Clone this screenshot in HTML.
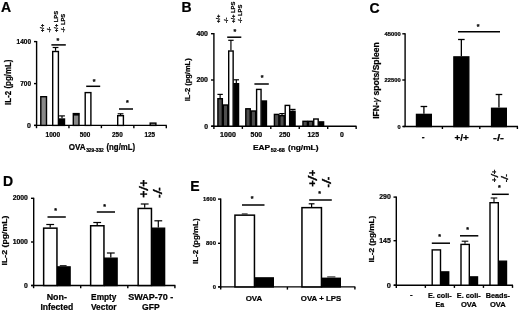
<!DOCTYPE html>
<html lang="en">
<head>
<meta charset="utf-8">
<title>Figure</title>
<style>
html,body{margin:0;padding:0;background:#fff;}
body{width:520px;height:312px;overflow:hidden;}
svg{display:block;font-family:"Liberation Sans",sans-serif;fill:#000;}
text{stroke:#000;stroke-width:0.22px;}
</style>
</head>
<body>
<svg width="520" height="312" viewBox="0 0 520 312">
<rect x="0" y="0" width="520" height="312" fill="#fff"/>
<text x="1.00" y="12.20" font-size="14" font-weight="bold">A</text>
<line x1="36.60" y1="41.00" x2="36.60" y2="126.00" stroke="#000" stroke-width="1.4" stroke-linecap="butt"/>
<line x1="34.00" y1="41.60" x2="36.60" y2="41.60" stroke="#000" stroke-width="1.4" stroke-linecap="butt"/>
<line x1="34.00" y1="83.60" x2="36.60" y2="83.60" stroke="#000" stroke-width="1.4" stroke-linecap="butt"/>
<line x1="34.00" y1="125.40" x2="36.60" y2="125.40" stroke="#000" stroke-width="1.4" stroke-linecap="butt"/>
<line x1="34.30" y1="125.40" x2="166.80" y2="125.40" stroke="#000" stroke-width="1.4" stroke-linecap="butt"/>
<line x1="36.50" y1="125.40" x2="36.50" y2="128.20" stroke="#000" stroke-width="1.4" stroke-linecap="butt"/>
<line x1="68.95" y1="125.40" x2="68.95" y2="128.20" stroke="#000" stroke-width="1.4" stroke-linecap="butt"/>
<line x1="101.40" y1="125.40" x2="101.40" y2="128.20" stroke="#000" stroke-width="1.4" stroke-linecap="butt"/>
<line x1="133.85" y1="125.40" x2="133.85" y2="128.20" stroke="#000" stroke-width="1.4" stroke-linecap="butt"/>
<line x1="166.30" y1="125.40" x2="166.30" y2="128.20" stroke="#000" stroke-width="1.4" stroke-linecap="butt"/>
<rect x="40.80" y="96.70" width="5.70" height="28.70" fill="#888" stroke="#000" stroke-width="1.4"/>
<line x1="55.55" y1="47.50" x2="55.55" y2="50.80" stroke="#000" stroke-width="1.2" stroke-linecap="butt"/>
<line x1="52.65" y1="47.50" x2="58.45" y2="47.50" stroke="#000" stroke-width="1.2" stroke-linecap="butt"/>
<rect x="52.70" y="51.50" width="5.70" height="73.90" fill="#fff" stroke="#000" stroke-width="1.4"/>
<line x1="62.00" y1="115.90" x2="62.00" y2="118.30" stroke="#000" stroke-width="1.2" stroke-linecap="butt"/>
<line x1="59.10" y1="115.90" x2="64.90" y2="115.90" stroke="#000" stroke-width="1.2" stroke-linecap="butt"/>
<rect x="59.50" y="119.00" width="5.00" height="6.40" fill="#000" stroke="#000" stroke-width="1.4"/>
<rect x="73.30" y="113.60" width="5.70" height="11.80" fill="#888" stroke="#000" stroke-width="1.4"/>
<rect x="73.2" y="113" width="6" height="2.6" fill="#000"/>
<rect x="85.20" y="92.60" width="5.70" height="32.80" fill="#fff" stroke="#000" stroke-width="1.4"/>
<line x1="120.55" y1="113.80" x2="120.55" y2="115.00" stroke="#000" stroke-width="1.2" stroke-linecap="butt"/>
<line x1="117.65" y1="113.80" x2="123.45" y2="113.80" stroke="#000" stroke-width="1.2" stroke-linecap="butt"/>
<rect x="117.70" y="115.70" width="5.70" height="9.70" fill="#fff" stroke="#000" stroke-width="1.4"/>
<rect x="150.20" y="123.10" width="5.70" height="2.30" fill="#999" stroke="#000" stroke-width="1.4"/>
<line x1="51.40" y1="44.90" x2="65.80" y2="44.90" stroke="#000" stroke-width="1.5" stroke-linecap="butt"/>
<text x="57.90" y="42.60" font-size="7" font-weight="bold" text-anchor="middle">*</text>
<line x1="86.20" y1="86.30" x2="100.20" y2="86.30" stroke="#000" stroke-width="1.5" stroke-linecap="butt"/>
<text x="94.00" y="83.90" font-size="7" font-weight="bold" text-anchor="middle">*</text>
<line x1="119.00" y1="109.00" x2="133.00" y2="109.00" stroke="#000" stroke-width="1.5" stroke-linecap="butt"/>
<text x="127.30" y="104.60" font-size="7" font-weight="bold" text-anchor="middle">*</text>
<text x="31.00" y="44.10" font-size="7.0" font-weight="bold" text-anchor="end" textLength="14.40" lengthAdjust="spacingAndGlyphs">1400</text>
<text x="31.00" y="86.10" font-size="7.0" font-weight="bold" text-anchor="end" textLength="10.80" lengthAdjust="spacingAndGlyphs">700</text>
<text x="31.00" y="127.90" font-size="7.0" font-weight="bold" text-anchor="end">0</text>
<text x="52.80" y="137.00" font-size="6.6" font-weight="bold" text-anchor="middle" textLength="14.60" lengthAdjust="spacingAndGlyphs">1000</text>
<text x="85.10" y="137.00" font-size="6.6" font-weight="bold" text-anchor="middle" textLength="10.60" lengthAdjust="spacingAndGlyphs">500</text>
<text x="117.40" y="137.00" font-size="6.6" font-weight="bold" text-anchor="middle" textLength="10.60" lengthAdjust="spacingAndGlyphs">250</text>
<text x="149.70" y="137.00" font-size="6.6" font-weight="bold" text-anchor="middle" textLength="10.60" lengthAdjust="spacingAndGlyphs">125</text>
<text x="68.80" y="150.00" font-size="8.3" font-weight="bold" textLength="16.80" lengthAdjust="spacingAndGlyphs">OVA</text>
<text x="86.20" y="152.00" font-size="4.6" font-weight="bold" textLength="17.60" lengthAdjust="spacingAndGlyphs">329-332</text>
<text x="106.50" y="150.00" font-size="8.3" font-weight="bold" textLength="28.60" lengthAdjust="spacingAndGlyphs">(ng/mL)</text>
<text transform="translate(11.00 82.20) rotate(-90)" font-size="8.2" font-weight="bold" text-anchor="middle" textLength="45.40" lengthAdjust="spacingAndGlyphs">IL-2 (pg/mL)</text>
<text transform="translate(44.00 32.20) rotate(-90)" font-size="5.8" font-weight="bold">+/+</text>
<text transform="translate(51.00 32.20) rotate(-90)" font-size="5.8" font-weight="bold">-/-</text>
<text transform="translate(58.40 32.20) rotate(-90)" font-size="5.8" font-weight="bold">+/+ LPS</text>
<text transform="translate(65.00 32.20) rotate(-90)" font-size="5.8" font-weight="bold">-/- LPS</text>
<text x="181.60" y="12.00" font-size="14" font-weight="bold">B</text>
<line x1="213.90" y1="33.10" x2="213.90" y2="126.80" stroke="#000" stroke-width="1.4" stroke-linecap="butt"/>
<line x1="211.00" y1="33.70" x2="213.90" y2="33.70" stroke="#000" stroke-width="1.4" stroke-linecap="butt"/>
<text x="208.00" y="36.00" font-size="6.8" font-weight="bold" text-anchor="end" textLength="11.60" lengthAdjust="spacingAndGlyphs">400</text>
<line x1="211.00" y1="80.00" x2="213.90" y2="80.00" stroke="#000" stroke-width="1.4" stroke-linecap="butt"/>
<text x="208.00" y="82.30" font-size="6.8" font-weight="bold" text-anchor="end" textLength="11.60" lengthAdjust="spacingAndGlyphs">200</text>
<line x1="211.00" y1="126.20" x2="213.90" y2="126.20" stroke="#000" stroke-width="1.4" stroke-linecap="butt"/>
<text x="208.00" y="128.50" font-size="6.8" font-weight="bold" text-anchor="end">0</text>
<line x1="211.50" y1="126.20" x2="356.50" y2="126.20" stroke="#000" stroke-width="1.4" stroke-linecap="butt"/>
<line x1="213.90" y1="126.20" x2="213.90" y2="128.90" stroke="#000" stroke-width="1.4" stroke-linecap="butt"/>
<line x1="242.35" y1="126.20" x2="242.35" y2="128.90" stroke="#000" stroke-width="1.4" stroke-linecap="butt"/>
<line x1="270.80" y1="126.20" x2="270.80" y2="128.90" stroke="#000" stroke-width="1.4" stroke-linecap="butt"/>
<line x1="299.25" y1="126.20" x2="299.25" y2="128.90" stroke="#000" stroke-width="1.4" stroke-linecap="butt"/>
<line x1="327.70" y1="126.20" x2="327.70" y2="128.90" stroke="#000" stroke-width="1.4" stroke-linecap="butt"/>
<line x1="356.15" y1="126.20" x2="356.15" y2="128.90" stroke="#000" stroke-width="1.4" stroke-linecap="butt"/>
<line x1="220.12" y1="94.40" x2="220.12" y2="98.00" stroke="#000" stroke-width="1.2" stroke-linecap="butt"/>
<line x1="217.43" y1="94.40" x2="222.82" y2="94.40" stroke="#000" stroke-width="1.2" stroke-linecap="butt"/>
<rect x="217.90" y="98.70" width="4.45" height="27.50" fill="#4e4e4e" stroke="#000" stroke-width="1.4"/>
<rect x="223.30" y="105.00" width="4.45" height="21.20" fill="#4e4e4e" stroke="#000" stroke-width="1.4"/>
<line x1="230.93" y1="40.30" x2="230.93" y2="50.30" stroke="#000" stroke-width="1.2" stroke-linecap="butt"/>
<line x1="228.23" y1="40.30" x2="233.62" y2="40.30" stroke="#000" stroke-width="1.2" stroke-linecap="butt"/>
<rect x="228.70" y="51.00" width="4.45" height="75.20" fill="#fff" stroke="#000" stroke-width="1.4"/>
<line x1="236.32" y1="79.80" x2="236.32" y2="83.00" stroke="#000" stroke-width="1.2" stroke-linecap="butt"/>
<line x1="233.62" y1="79.80" x2="239.02" y2="79.80" stroke="#000" stroke-width="1.2" stroke-linecap="butt"/>
<rect x="234.10" y="83.70" width="4.45" height="42.50" fill="#000" stroke="#000" stroke-width="1.4"/>
<rect x="245.80" y="108.80" width="4.45" height="17.40" fill="#4e4e4e" stroke="#000" stroke-width="1.4"/>
<rect x="251.20" y="111.00" width="4.45" height="15.20" fill="#4e4e4e" stroke="#000" stroke-width="1.4"/>
<rect x="256.60" y="89.40" width="4.45" height="36.80" fill="#fff" stroke="#000" stroke-width="1.4"/>
<rect x="262.00" y="101.00" width="4.45" height="25.20" fill="#000" stroke="#000" stroke-width="1.4"/>
<rect x="274.40" y="114.40" width="4.45" height="11.80" fill="#4e4e4e" stroke="#000" stroke-width="1.4"/>
<line x1="282.03" y1="113.60" x2="282.03" y2="115.00" stroke="#000" stroke-width="1.2" stroke-linecap="butt"/>
<line x1="279.33" y1="113.60" x2="284.73" y2="113.60" stroke="#000" stroke-width="1.2" stroke-linecap="butt"/>
<rect x="279.80" y="115.70" width="4.45" height="10.50" fill="#4e4e4e" stroke="#000" stroke-width="1.4"/>
<rect x="285.20" y="105.40" width="4.45" height="20.80" fill="#fff" stroke="#000" stroke-width="1.4"/>
<line x1="292.83" y1="109.40" x2="292.83" y2="110.60" stroke="#000" stroke-width="1.2" stroke-linecap="butt"/>
<line x1="290.13" y1="109.40" x2="295.53" y2="109.40" stroke="#000" stroke-width="1.2" stroke-linecap="butt"/>
<rect x="290.60" y="111.30" width="4.45" height="14.90" fill="#000" stroke="#000" stroke-width="1.4"/>
<rect x="302.95" y="121.30" width="4.45" height="4.90" fill="#4e4e4e" stroke="#000" stroke-width="1.4"/>
<rect x="308.35" y="121.30" width="4.45" height="4.90" fill="#4e4e4e" stroke="#000" stroke-width="1.4"/>
<rect x="313.75" y="119.00" width="4.45" height="7.20" fill="#fff" stroke="#000" stroke-width="1.4"/>
<rect x="319.15" y="121.90" width="4.45" height="4.30" fill="#000" stroke="#000" stroke-width="1.4"/>
<line x1="227.20" y1="37.20" x2="241.30" y2="37.20" stroke="#000" stroke-width="1.5" stroke-linecap="butt"/>
<text x="234.80" y="34.20" font-size="7" font-weight="bold" text-anchor="middle">*</text>
<line x1="254.40" y1="84.00" x2="268.80" y2="84.00" stroke="#000" stroke-width="1.5" stroke-linecap="butt"/>
<text x="262.10" y="79.60" font-size="7" font-weight="bold" text-anchor="middle">*</text>
<text x="228.00" y="137.30" font-size="6.9" font-weight="bold" text-anchor="middle" textLength="15.80" lengthAdjust="spacingAndGlyphs">1000</text>
<text x="256.40" y="137.30" font-size="6.9" font-weight="bold" text-anchor="middle" textLength="11.60" lengthAdjust="spacingAndGlyphs">500</text>
<text x="284.70" y="137.30" font-size="6.9" font-weight="bold" text-anchor="middle" textLength="11.40" lengthAdjust="spacingAndGlyphs">250</text>
<text x="313.30" y="137.30" font-size="6.9" font-weight="bold" text-anchor="middle" textLength="11.60" lengthAdjust="spacingAndGlyphs">125</text>
<text x="341.80" y="137.30" font-size="6.9" font-weight="bold" text-anchor="middle">0</text>
<text x="252.90" y="150.30" font-size="7.9" font-weight="bold" textLength="17.20" lengthAdjust="spacingAndGlyphs">EAP</text>
<text x="270.80" y="152.30" font-size="4.7" font-weight="bold" textLength="14.00" lengthAdjust="spacingAndGlyphs">52-68</text>
<text x="287.90" y="150.30" font-size="7.9" font-weight="bold" textLength="30.60" lengthAdjust="spacingAndGlyphs">(ng/mL)</text>
<text transform="translate(189.50 79.80) rotate(-90)" font-size="7.4" font-weight="bold" text-anchor="middle" textLength="43.00" lengthAdjust="spacingAndGlyphs">IL-2 (pg/mL)</text>
<text transform="translate(220.10 23.00) rotate(-90)" font-size="5.8" font-weight="bold">+/+</text>
<text transform="translate(227.60 23.00) rotate(-90)" font-size="5.8" font-weight="bold">-/-</text>
<text transform="translate(234.70 23.00) rotate(-90)" font-size="5.8" font-weight="bold">+/+ LPS</text>
<text transform="translate(242.30 23.00) rotate(-90)" font-size="5.8" font-weight="bold">-/- LPS</text>
<text x="369.60" y="12.50" font-size="14" font-weight="bold">C</text>
<line x1="405.10" y1="33.20" x2="405.10" y2="127.10" stroke="#000" stroke-width="1.4" stroke-linecap="butt"/>
<line x1="402.30" y1="33.80" x2="405.10" y2="33.80" stroke="#000" stroke-width="1.4" stroke-linecap="butt"/>
<text x="400.60" y="35.80" font-size="5.6" font-weight="bold" text-anchor="end" textLength="16.00" lengthAdjust="spacingAndGlyphs">45000</text>
<line x1="402.30" y1="80.00" x2="405.10" y2="80.00" stroke="#000" stroke-width="1.4" stroke-linecap="butt"/>
<text x="400.60" y="82.00" font-size="5.6" font-weight="bold" text-anchor="end" textLength="16.00" lengthAdjust="spacingAndGlyphs">22500</text>
<line x1="402.30" y1="126.50" x2="405.10" y2="126.50" stroke="#000" stroke-width="1.4" stroke-linecap="butt"/>
<text x="400.60" y="128.50" font-size="5.6" font-weight="bold" text-anchor="end">0</text>
<line x1="403.20" y1="126.50" x2="518.00" y2="126.50" stroke="#000" stroke-width="1.4" stroke-linecap="butt"/>
<line x1="442.40" y1="126.50" x2="442.40" y2="129.00" stroke="#000" stroke-width="1.4" stroke-linecap="butt"/>
<line x1="479.80" y1="126.50" x2="479.80" y2="129.00" stroke="#000" stroke-width="1.4" stroke-linecap="butt"/>
<line x1="517.40" y1="126.50" x2="517.40" y2="129.00" stroke="#000" stroke-width="1.4" stroke-linecap="butt"/>
<line x1="423.90" y1="106.50" x2="423.90" y2="113.70" stroke="#000" stroke-width="1.3" stroke-linecap="butt"/>
<line x1="420.60" y1="106.50" x2="427.20" y2="106.50" stroke="#000" stroke-width="1.3" stroke-linecap="butt"/>
<rect x="416.50" y="114.40" width="14.80" height="12.10" fill="#000" stroke="#000" stroke-width="1.4"/>
<line x1="461.35" y1="39.50" x2="461.35" y2="56.20" stroke="#000" stroke-width="1.3" stroke-linecap="butt"/>
<line x1="458.05" y1="39.50" x2="464.65" y2="39.50" stroke="#000" stroke-width="1.3" stroke-linecap="butt"/>
<rect x="453.90" y="56.90" width="14.90" height="69.60" fill="#000" stroke="#000" stroke-width="1.4"/>
<line x1="498.95" y1="94.50" x2="498.95" y2="107.60" stroke="#000" stroke-width="1.3" stroke-linecap="butt"/>
<line x1="495.65" y1="94.50" x2="502.25" y2="94.50" stroke="#000" stroke-width="1.3" stroke-linecap="butt"/>
<rect x="491.60" y="108.30" width="14.70" height="18.20" fill="#000" stroke="#000" stroke-width="1.4"/>
<line x1="458.00" y1="31.80" x2="500.00" y2="31.80" stroke="#000" stroke-width="1.4" stroke-linecap="butt"/>
<text x="478.00" y="29.40" font-size="7" font-weight="bold" text-anchor="middle">*</text>
<text x="423.20" y="140.40" font-size="8.5" font-weight="bold" text-anchor="middle">-</text>
<text x="461.60" y="141.40" font-size="8.5" font-weight="bold" text-anchor="middle" textLength="14.40" lengthAdjust="spacingAndGlyphs">+/+</text>
<text x="498.50" y="141.20" font-size="8.5" font-weight="bold" text-anchor="middle" textLength="11.00" lengthAdjust="spacingAndGlyphs">-/-</text>
<text transform="translate(379.1 80.6) rotate(-90)" font-size="8.6" font-weight="bold" text-anchor="middle" textLength="76.5" lengthAdjust="spacingAndGlyphs">IFN-<tspan font-weight="normal" font-style="italic">&#947;</tspan> spots/Spleen</text>
<text x="3.10" y="185.90" font-size="14" font-weight="bold">D</text>
<line x1="33.70" y1="197.70" x2="33.70" y2="286.10" stroke="#000" stroke-width="1.4" stroke-linecap="butt"/>
<line x1="31.00" y1="198.30" x2="33.70" y2="198.30" stroke="#000" stroke-width="1.4" stroke-linecap="butt"/>
<text x="27.90" y="200.30" font-size="6.8" font-weight="bold" text-anchor="end" textLength="15.20" lengthAdjust="spacingAndGlyphs">2000</text>
<line x1="31.00" y1="242.00" x2="33.70" y2="242.00" stroke="#000" stroke-width="1.4" stroke-linecap="butt"/>
<text x="27.90" y="244.00" font-size="6.8" font-weight="bold" text-anchor="end" textLength="15.20" lengthAdjust="spacingAndGlyphs">1000</text>
<line x1="31.00" y1="285.50" x2="33.70" y2="285.50" stroke="#000" stroke-width="1.4" stroke-linecap="butt"/>
<text x="27.90" y="287.50" font-size="6.8" font-weight="bold" text-anchor="end">0</text>
<line x1="31.30" y1="285.50" x2="175.40" y2="285.50" stroke="#000" stroke-width="1.4" stroke-linecap="butt"/>
<line x1="33.60" y1="285.50" x2="33.60" y2="288.20" stroke="#000" stroke-width="1.4" stroke-linecap="butt"/>
<line x1="80.70" y1="285.50" x2="80.70" y2="288.20" stroke="#000" stroke-width="1.4" stroke-linecap="butt"/>
<line x1="127.80" y1="285.50" x2="127.80" y2="288.20" stroke="#000" stroke-width="1.4" stroke-linecap="butt"/>
<line x1="174.90" y1="285.50" x2="174.90" y2="288.20" stroke="#000" stroke-width="1.4" stroke-linecap="butt"/>
<line x1="50.20" y1="224.50" x2="50.20" y2="227.40" stroke="#000" stroke-width="1.2" stroke-linecap="butt"/>
<line x1="46.30" y1="224.50" x2="54.10" y2="224.50" stroke="#000" stroke-width="1.2" stroke-linecap="butt"/>
<rect x="43.65" y="228.15" width="13.30" height="57.35" fill="#fff" stroke="#000" stroke-width="1.5"/>
<rect x="57.70" y="266.90" width="12.40" height="18.60" fill="#000" stroke="#000" stroke-width="1.4"/>
<line x1="59.80" y1="265.70" x2="66.60" y2="265.70" stroke="#000" stroke-width="1.0" stroke-linecap="butt"/>
<line x1="97.20" y1="222.50" x2="97.20" y2="225.00" stroke="#000" stroke-width="1.2" stroke-linecap="butt"/>
<line x1="93.30" y1="222.50" x2="101.10" y2="222.50" stroke="#000" stroke-width="1.2" stroke-linecap="butt"/>
<rect x="90.65" y="225.75" width="13.30" height="59.75" fill="#fff" stroke="#000" stroke-width="1.5"/>
<line x1="110.80" y1="253.00" x2="110.80" y2="257.50" stroke="#000" stroke-width="1.2" stroke-linecap="butt"/>
<line x1="106.90" y1="253.00" x2="114.70" y2="253.00" stroke="#000" stroke-width="1.2" stroke-linecap="butt"/>
<rect x="104.70" y="258.20" width="12.40" height="27.30" fill="#000" stroke="#000" stroke-width="1.4"/>
<line x1="144.70" y1="204.00" x2="144.70" y2="207.70" stroke="#000" stroke-width="1.2" stroke-linecap="butt"/>
<line x1="140.80" y1="204.00" x2="148.60" y2="204.00" stroke="#000" stroke-width="1.2" stroke-linecap="butt"/>
<rect x="138.15" y="208.45" width="13.30" height="77.05" fill="#fff" stroke="#000" stroke-width="1.5"/>
<line x1="158.30" y1="220.80" x2="158.30" y2="227.50" stroke="#000" stroke-width="1.2" stroke-linecap="butt"/>
<line x1="154.40" y1="220.80" x2="162.20" y2="220.80" stroke="#000" stroke-width="1.2" stroke-linecap="butt"/>
<rect x="152.20" y="228.20" width="12.40" height="57.30" fill="#000" stroke="#000" stroke-width="1.4"/>
<line x1="47.50" y1="217.00" x2="65.80" y2="217.00" stroke="#000" stroke-width="1.5" stroke-linecap="butt"/>
<text x="55.50" y="213.10" font-size="7" font-weight="bold" text-anchor="middle">*</text>
<line x1="96.80" y1="212.00" x2="115.00" y2="212.00" stroke="#000" stroke-width="1.5" stroke-linecap="butt"/>
<text x="104.50" y="208.60" font-size="7" font-weight="bold" text-anchor="middle">*</text>
<text x="56.80" y="300.40" font-size="8.6" font-weight="bold" text-anchor="middle" textLength="20.20" lengthAdjust="spacingAndGlyphs">Non-</text>
<text x="56.80" y="310.40" font-size="8.6" font-weight="bold" text-anchor="middle" textLength="32.80" lengthAdjust="spacingAndGlyphs">Infected</text>
<text x="103.80" y="300.40" font-size="8.6" font-weight="bold" text-anchor="middle" textLength="25.40" lengthAdjust="spacingAndGlyphs">Empty</text>
<text x="103.80" y="310.40" font-size="8.6" font-weight="bold" text-anchor="middle" textLength="25.60" lengthAdjust="spacingAndGlyphs">Vector</text>
<text x="150.80" y="300.40" font-size="8.6" font-weight="bold" text-anchor="middle" textLength="45.20" lengthAdjust="spacingAndGlyphs">SWAP-70 -</text>
<text x="150.80" y="310.40" font-size="8.6" font-weight="bold" text-anchor="middle" textLength="17.60" lengthAdjust="spacingAndGlyphs">GFP</text>
<text transform="translate(7.30 240.50) rotate(-90)" font-size="7.5" font-weight="bold" text-anchor="middle" textLength="49.80" lengthAdjust="spacingAndGlyphs">IL-2 (pg/mL)</text>
<text transform="translate(147.96 183.20) rotate(-90) scale(1.0 1)" font-size="12.4" font-weight="bold" text-anchor="middle">+</text>
<text transform="translate(147.62 188.40) rotate(-90) scale(1.45 1)" font-size="12" font-weight="normal" text-anchor="middle">/</text>
<text transform="translate(147.96 194.10) rotate(-90) scale(1.0 1)" font-size="12.4" font-weight="bold" text-anchor="middle">+</text>
<text transform="translate(161.98 189.10) rotate(-90) scale(1.0 1)" font-size="11" font-weight="bold" text-anchor="middle">-</text>
<text transform="translate(162.12 191.80) rotate(-90) scale(1.5 1)" font-size="12" font-weight="normal" text-anchor="middle">/</text>
<text transform="translate(161.98 196.20) rotate(-90) scale(1.0 1)" font-size="11" font-weight="bold" text-anchor="middle">-</text>
<text x="190.20" y="191.40" font-size="14" font-weight="bold">E</text>
<line x1="220.70" y1="198.50" x2="220.70" y2="287.50" stroke="#000" stroke-width="1.4" stroke-linecap="butt"/>
<line x1="218.00" y1="199.10" x2="220.70" y2="199.10" stroke="#000" stroke-width="1.4" stroke-linecap="butt"/>
<text x="215.90" y="201.10" font-size="5.8" font-weight="bold" text-anchor="end" textLength="12.80" lengthAdjust="spacingAndGlyphs">1600</text>
<line x1="218.00" y1="243.30" x2="220.70" y2="243.30" stroke="#000" stroke-width="1.4" stroke-linecap="butt"/>
<text x="215.90" y="245.30" font-size="5.8" font-weight="bold" text-anchor="end" textLength="9.80" lengthAdjust="spacingAndGlyphs">800</text>
<line x1="218.00" y1="286.90" x2="220.70" y2="286.90" stroke="#000" stroke-width="1.4" stroke-linecap="butt"/>
<text x="215.90" y="288.90" font-size="5.8" font-weight="bold" text-anchor="end">0</text>
<line x1="218.30" y1="286.90" x2="355.40" y2="286.90" stroke="#000" stroke-width="1.4" stroke-linecap="butt"/>
<line x1="220.70" y1="286.90" x2="220.70" y2="289.60" stroke="#000" stroke-width="1.4" stroke-linecap="butt"/>
<line x1="287.40" y1="286.90" x2="287.40" y2="289.60" stroke="#000" stroke-width="1.4" stroke-linecap="butt"/>
<line x1="354.90" y1="286.90" x2="354.90" y2="289.60" stroke="#000" stroke-width="1.4" stroke-linecap="butt"/>
<rect x="234.95" y="215.15" width="19.50" height="71.75" fill="#fff" stroke="#000" stroke-width="1.5"/>
<rect x="255.10" y="277.90" width="18.20" height="9.00" fill="#000" stroke="#000" stroke-width="1.4"/>
<line x1="311.60" y1="203.80" x2="311.60" y2="206.90" stroke="#000" stroke-width="1.2" stroke-linecap="butt"/>
<line x1="308.70" y1="203.80" x2="314.50" y2="203.80" stroke="#000" stroke-width="1.2" stroke-linecap="butt"/>
<rect x="301.95" y="207.65" width="19.50" height="79.25" fill="#fff" stroke="#000" stroke-width="1.5"/>
<rect x="322.10" y="278.30" width="18.20" height="8.60" fill="#000" stroke="#000" stroke-width="1.4"/>
<line x1="327.20" y1="276.90" x2="335.40" y2="276.90" stroke="#000" stroke-width="0.9" stroke-linecap="butt"/>
<line x1="241.80" y1="213.90" x2="247.60" y2="213.90" stroke="#000" stroke-width="0.9" stroke-linecap="butt"/>
<line x1="242.00" y1="205.00" x2="264.50" y2="205.00" stroke="#000" stroke-width="1.5" stroke-linecap="butt"/>
<text x="252.00" y="201.10" font-size="7" font-weight="bold" text-anchor="middle">*</text>
<line x1="309.20" y1="200.00" x2="331.80" y2="200.00" stroke="#000" stroke-width="1.5" stroke-linecap="butt"/>
<text x="319.50" y="195.60" font-size="7" font-weight="bold" text-anchor="middle">*</text>
<text x="254.00" y="300.50" font-size="8" font-weight="bold" text-anchor="middle" textLength="16.60" lengthAdjust="spacingAndGlyphs">OVA</text>
<text x="321.00" y="300.50" font-size="8" font-weight="bold" text-anchor="middle" textLength="40.40" lengthAdjust="spacingAndGlyphs">OVA + LPS</text>
<text transform="translate(198.20 241.20) rotate(-90)" font-size="7.2" font-weight="bold" text-anchor="middle" textLength="45.60" lengthAdjust="spacingAndGlyphs">IL-2 (pg/mL)</text>
<text transform="translate(316.44 172.90) rotate(-90) scale(1.0 1)" font-size="11.2" font-weight="bold" text-anchor="middle">+</text>
<text transform="translate(316.72 178.10) rotate(-90) scale(1.55 1)" font-size="12" font-weight="normal" text-anchor="middle">/</text>
<text transform="translate(316.44 183.50) rotate(-90) scale(1.0 1)" font-size="11.2" font-weight="bold" text-anchor="middle">+</text>
<text transform="translate(330.98 178.50) rotate(-90) scale(1.0 1)" font-size="10.6" font-weight="bold" text-anchor="middle">-</text>
<text transform="translate(331.12 181.50) rotate(-90) scale(1.55 1)" font-size="12" font-weight="normal" text-anchor="middle">/</text>
<text transform="translate(330.98 185.70) rotate(-90) scale(1.0 1)" font-size="10.6" font-weight="bold" text-anchor="middle">-</text>
<line x1="396.30" y1="196.50" x2="396.30" y2="285.80" stroke="#000" stroke-width="1.4" stroke-linecap="butt"/>
<line x1="393.50" y1="197.10" x2="396.30" y2="197.10" stroke="#000" stroke-width="1.4" stroke-linecap="butt"/>
<text x="390.80" y="199.40" font-size="7.4" font-weight="bold" text-anchor="end" textLength="11.60" lengthAdjust="spacingAndGlyphs">290</text>
<line x1="393.50" y1="240.70" x2="396.30" y2="240.70" stroke="#000" stroke-width="1.4" stroke-linecap="butt"/>
<text x="390.80" y="243.00" font-size="7.4" font-weight="bold" text-anchor="end" textLength="11.60" lengthAdjust="spacingAndGlyphs">145</text>
<line x1="393.50" y1="285.20" x2="396.30" y2="285.20" stroke="#000" stroke-width="1.4" stroke-linecap="butt"/>
<text x="390.80" y="287.50" font-size="7.4" font-weight="bold" text-anchor="end">0</text>
<line x1="394.00" y1="285.20" x2="513.00" y2="285.20" stroke="#000" stroke-width="1.4" stroke-linecap="butt"/>
<line x1="396.30" y1="285.20" x2="396.30" y2="287.90" stroke="#000" stroke-width="1.4" stroke-linecap="butt"/>
<line x1="425.35" y1="285.20" x2="425.35" y2="287.90" stroke="#000" stroke-width="1.4" stroke-linecap="butt"/>
<line x1="454.40" y1="285.20" x2="454.40" y2="287.90" stroke="#000" stroke-width="1.4" stroke-linecap="butt"/>
<line x1="483.45" y1="285.20" x2="483.45" y2="287.90" stroke="#000" stroke-width="1.4" stroke-linecap="butt"/>
<line x1="512.50" y1="285.20" x2="512.50" y2="287.90" stroke="#000" stroke-width="1.4" stroke-linecap="butt"/>
<rect x="432.20" y="249.90" width="8.30" height="35.30" fill="#fff" stroke="#000" stroke-width="1.4"/>
<rect x="441.30" y="271.90" width="7.40" height="13.30" fill="#000" stroke="#000" stroke-width="1.4"/>
<line x1="465.00" y1="241.20" x2="465.00" y2="243.70" stroke="#000" stroke-width="1.1" stroke-linecap="butt"/>
<line x1="461.70" y1="241.20" x2="468.30" y2="241.20" stroke="#000" stroke-width="1.1" stroke-linecap="butt"/>
<rect x="461.00" y="244.40" width="8.30" height="40.80" fill="#fff" stroke="#000" stroke-width="1.4"/>
<rect x="470.10" y="276.90" width="7.40" height="8.30" fill="#000" stroke="#000" stroke-width="1.4"/>
<line x1="494.00" y1="198.00" x2="494.00" y2="202.00" stroke="#000" stroke-width="1.1" stroke-linecap="butt"/>
<line x1="490.70" y1="198.00" x2="497.30" y2="198.00" stroke="#000" stroke-width="1.1" stroke-linecap="butt"/>
<rect x="490.00" y="202.70" width="8.30" height="82.50" fill="#fff" stroke="#000" stroke-width="1.4"/>
<rect x="499.10" y="261.20" width="7.40" height="24.00" fill="#000" stroke="#000" stroke-width="1.4"/>
<line x1="431.80" y1="243.20" x2="450.00" y2="243.20" stroke="#000" stroke-width="1.5" stroke-linecap="butt"/>
<text x="439.50" y="239.40" font-size="7" font-weight="bold" text-anchor="middle">*</text>
<line x1="460.00" y1="235.80" x2="478.30" y2="235.80" stroke="#000" stroke-width="1.5" stroke-linecap="butt"/>
<text x="467.60" y="231.90" font-size="7" font-weight="bold" text-anchor="middle">*</text>
<line x1="491.80" y1="194.30" x2="508.80" y2="194.30" stroke="#000" stroke-width="1.5" stroke-linecap="butt"/>
<text x="499.30" y="189.90" font-size="7" font-weight="bold" text-anchor="middle">*</text>
<text x="411.40" y="297.20" font-size="7.9" font-weight="bold" text-anchor="middle">-</text>
<text x="439.80" y="298.40" font-size="7.9" font-weight="bold" text-anchor="middle" textLength="23.80" lengthAdjust="spacingAndGlyphs">E. coli-</text>
<text x="439.80" y="306.90" font-size="7.9" font-weight="bold" text-anchor="middle" textLength="8.60" lengthAdjust="spacingAndGlyphs">Ea</text>
<text x="468.80" y="298.40" font-size="7.9" font-weight="bold" text-anchor="middle" textLength="24.00" lengthAdjust="spacingAndGlyphs">E. coli-</text>
<text x="468.80" y="306.90" font-size="7.9" font-weight="bold" text-anchor="middle" textLength="15.80" lengthAdjust="spacingAndGlyphs">OVA</text>
<text x="497.80" y="298.40" font-size="7.9" font-weight="bold" text-anchor="middle" textLength="24.20" lengthAdjust="spacingAndGlyphs">Beads-</text>
<text x="497.80" y="306.90" font-size="7.9" font-weight="bold" text-anchor="middle" textLength="15.80" lengthAdjust="spacingAndGlyphs">OVA</text>
<text transform="translate(373.50 239.20) rotate(-90)" font-size="7.9" font-weight="bold" text-anchor="middle" textLength="46.80" lengthAdjust="spacingAndGlyphs">IL-2 (pg/mL)</text>
<text transform="translate(497.22 171.80) rotate(-90) scale(1.0 1)" font-size="8.0" font-weight="bold" text-anchor="middle">+</text>
<text transform="translate(497.73 175.60) rotate(-90) scale(1.55 1)" font-size="8.9" font-weight="normal" text-anchor="middle">/</text>
<text transform="translate(497.22 179.90) rotate(-90) scale(1.0 1)" font-size="8.0" font-weight="bold" text-anchor="middle">+</text>
<text transform="translate(507.50 175.40) rotate(-90) scale(1.0 1)" font-size="8.0" font-weight="bold" text-anchor="middle">-</text>
<text transform="translate(508.03 178.00) rotate(-90) scale(1.5 1)" font-size="8.9" font-weight="normal" text-anchor="middle">/</text>
<text transform="translate(507.50 180.90) rotate(-90) scale(1.0 1)" font-size="8.0" font-weight="bold" text-anchor="middle">-</text>
</svg>
</body>
</html>
